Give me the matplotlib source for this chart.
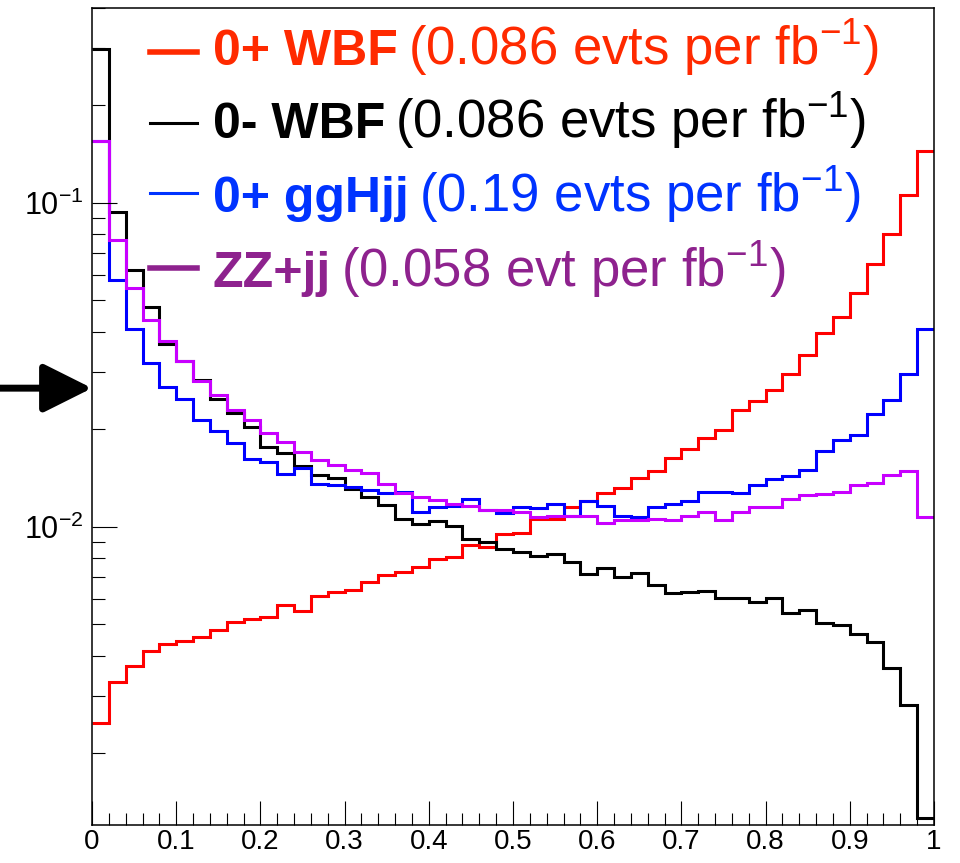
import matplotlib
matplotlib.use("Agg")
import matplotlib.pyplot as plt
import numpy as np
from matplotlib.lines import Line2D
from matplotlib.ticker import MultipleLocator, LogLocator, FixedLocator, FixedFormatter, NullFormatter

plt.rcParams['font.family'] = ['Liberation Sans', 'DejaVu Sans']
plt.rcParams['mathtext.fontset'] = 'custom'
plt.rcParams['mathtext.rm'] = 'Liberation Sans'
plt.rcParams['mathtext.it'] = 'Liberation Sans:italic'
plt.rcParams['mathtext.bf'] = 'Liberation Sans:bold'

# 50 bins between 0 and 1
n_bins = 50
x_min, x_max = 0.0, 1.0

# normalised distributions
wbf_0plus = [0.00247, 0.00331, 0.00373, 0.00414, 0.00434, 0.00444, 0.00458, 0.00480, 0.00507, 0.00518,
             0.00527, 0.00573, 0.00551, 0.00611, 0.00628, 0.00638, 0.00677, 0.00710, 0.00723, 0.00750,
             0.00793, 0.00808, 0.00880, 0.00868, 0.00950, 0.00960, 0.01054, 0.01060, 0.01153, 0.01200,
             0.01274, 0.01314, 0.01410, 0.01486, 0.01633, 0.01734, 0.01883, 0.01985, 0.02290, 0.02449,
             0.02640, 0.02960, 0.03390, 0.03970, 0.04430, 0.05290, 0.06500, 0.08040, 0.10620, 0.14440]

wbf_0minus = [0.298, 0.094, 0.062, 0.0476, 0.0366, 0.0325, 0.0284, 0.0249, 0.0225, 0.0204,
              0.0176, 0.0169, 0.0154, 0.0145, 0.0141, 0.0131, 0.0124, 0.0117, 0.0106, 0.0102,
              0.01045, 0.01005, 0.00916, 0.00897, 0.00853, 0.00835, 0.00810, 0.00822, 0.00777, 0.00716,
              0.00745, 0.00701, 0.00718, 0.00661, 0.00626, 0.00628, 0.00634, 0.00601, 0.00604, 0.00587,
              0.00604, 0.00543, 0.00553, 0.00503, 0.00497, 0.00466, 0.00440, 0.00367, 0.00282, 0.00126]

gghjj_0plus = [0.155, 0.058, 0.0407, 0.0321, 0.0271, 0.0248, 0.0213, 0.0197, 0.0182, 0.0162,
               0.0159, 0.0146, 0.0152, 0.0136, 0.0135, 0.0133, 0.0130, 0.0127, 0.0128, 0.0111,
               0.0115, 0.0116, 0.0122, 0.0113, 0.0110, 0.0115, 0.0114, 0.0118, 0.0108, 0.0120,
               0.0116, 0.0108, 0.0107, 0.0115, 0.0118, 0.0120, 0.0128, 0.0128, 0.0127, 0.0135,
               0.0140, 0.0144, 0.0150, 0.0172, 0.0185, 0.0192, 0.0223, 0.0247, 0.0296, 0.0407]

zzjj = [0.155, 0.0771, 0.0547, 0.0434, 0.0375, 0.0325, 0.0281, 0.0255, 0.0229, 0.0213,
        0.0195, 0.0183, 0.0170, 0.0161, 0.0155, 0.0150, 0.0147, 0.0136, 0.0127, 0.0124,
        0.0121, 0.0118, 0.0116, 0.0113, 0.0113, 0.0111, 0.0107, 0.0108, 0.0108, 0.0108,
        0.0103, 0.0105, 0.0105, 0.0106, 0.0105, 0.0108, 0.0111, 0.0105, 0.0111, 0.0115,
        0.0115, 0.0122, 0.0125, 0.0126, 0.0128, 0.0135, 0.0137, 0.0145, 0.0149, 0.0107]

legend_bold = ["0+ WBF", "0- WBF", "0+ ggHjj", "ZZ+jj"]
legend_rest = [r"(0.086 evts per fb$^{\mathregular{-1}}$)",
               r"(0.086 evts per fb$^{\mathregular{-1}}$)",
               r"(0.19 evts per fb$^{\mathregular{-1}}$)",
               r"(0.058 evt per fb$^{\mathregular{-1}}$)"]

x_ticks = [0, 0.1, 0.2, 0.3, 0.4, 0.5, 0.6, 0.7, 0.8, 0.9, 1.0]
x_tick_labels = ["0", "0.1", "0.2", "0.3", "0.4", "0.5", "0.6", "0.7", "0.8", "0.9", "1"]
y_ticks = [1e-2, 1e-1]
y_tick_labels = [r"$\mathregular{10^{-2}}$", r"$\mathregular{10^{-1}}$"]
arrow_level = 0.0268

hist_colors = ["#ff0000", "#000000", "#0000ff", "#c800ff"]
text_colors = ["#ff2a00", "#000000", "#0033ff", "#8e228e"]
marker_widths = [4.0, 2.2, 2.2, 4.0]

W, H = 960, 863
fig = plt.figure(figsize=(W / 100, H / 100), dpi=100)
ax = fig.add_axes([92 / W, 1 - 825 / H, (934 - 92) / W, (825 - 8) / H])

edges = np.linspace(x_min, x_max, n_bins + 1)
for vals, c in zip([wbf_0plus, wbf_0minus, gghjj_0plus, zzjj], hist_colors):
    ax.stairs(vals, edges, baseline=None, color=c, lw=2.2)

ax.set_yscale('log')
ax.set_xlim(x_min, x_max)
ax.set_ylim(0.0012, 0.40)

ax.xaxis.set_major_locator(FixedLocator(x_ticks))
ax.xaxis.set_major_formatter(FixedFormatter(x_tick_labels))
ax.xaxis.set_minor_locator(MultipleLocator(0.02))
ax.yaxis.set_major_locator(FixedLocator(y_ticks))
ax.yaxis.set_major_formatter(FixedFormatter(y_tick_labels))
ax.yaxis.set_minor_locator(LogLocator(base=10, subs=np.arange(2, 10)))
ax.yaxis.set_minor_formatter(NullFormatter())

ax.tick_params(which='both', direction='in', top=False, right=False, width=0.8, color='black')
ax.tick_params(axis='x', which='major', length=17, labelsize=20, pad=3)
ax.tick_params(axis='x', which='minor', length=8.5)
ax.tick_params(axis='y', which='major', length=18, labelsize=22, pad=6)
ax.tick_params(axis='y', which='minor', length=9.5)
for sp in ax.spines.values():
    sp.set_linewidth(1.1)

# legend, drawn by hand in figure pixels
baselines = [65, 138, 212, 287]
marker_y = [52, 123, 193, 268]
renderer = fig.canvas.get_renderer()
for i in range(4):
    yb = 1 - baselines[i] / H
    yl = 1 - marker_y[i] / H
    fig.add_artist(Line2D([150 / W, 197 / W], [yl, yl], color=text_colors[i], lw=marker_widths[i]))
    t1 = fig.text(213 / W, yb, legend_bold[i], fontsize=36, fontweight='bold',
                  color=text_colors[i], va='baseline')
    bb = t1.get_window_extent(renderer=renderer)
    fig.text((bb.x1 + 10) / W, yb, legend_rest[i], fontsize=38,
             color=text_colors[i], va='baseline')

# arrow pointing at the axis
ax.annotate('', xy=(0, arrow_level), xycoords='data',
            xytext=(0.0, arrow_level), textcoords=('figure fraction', 'data'),
            arrowprops=dict(arrowstyle='-|>,head_length=1.0,head_width=0.5', lw=5,
                            color='black', shrinkA=0, shrinkB=0, mutation_scale=30),
            annotation_clip=False)

fig.savefig("out.png", dpi=100)
